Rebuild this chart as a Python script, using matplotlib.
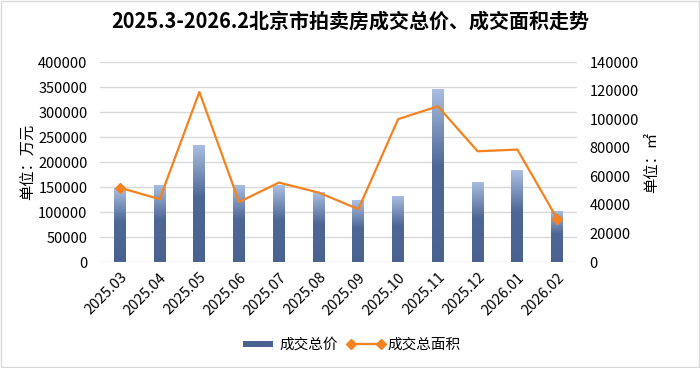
import matplotlib
matplotlib.use("Agg")
import matplotlib.pyplot as plt
import numpy as np
from matplotlib.colors import LinearSegmentedColormap
from matplotlib.patches import Rectangle
from matplotlib.legend_handler import HandlerPatch

plt.rcParams['font.family'] = ['Noto Sans CJK SC', 'DejaVu Sans']

months = ["2025.03", "2025.04", "2025.05", "2025.06", "2025.07", "2025.08",
          "2025.09", "2025.10", "2025.11", "2025.12", "2026.01", "2026.02"]
total_price = [148000, 155000, 235000, 155000, 154000, 140000,
               124000, 133000, 347000, 161000, 184000, 103000]
total_area = [52000, 44000, 119000, 42000, 55600, 48600,
              37000, 100000, 109000, 77500, 78700, 30400]

title = "2025.3-2026.2北京市拍卖房成交总价、成交面积走势"

fig = plt.figure(figsize=(7.0, 3.68), dpi=100)
fig.patch.set_facecolor("white")
ax = fig.add_axes([100/700, 1-262/368, 477/700, 200/368])
ax2 = ax.twinx()

x = np.arange(len(months))
bars = ax.bar(x, total_price, width=0.3, color="#4a6290", zorder=2, label="成交总价")

# gradient fill for bars
cmap = LinearSegmentedColormap.from_list("g", [(0, "#4a6290"), (0.55, "#4e6896"), (1.0, "#aabfe2")])
grad = np.linspace(0, 1, 256).reshape(-1, 1)
for b in bars:
    bx, by, bw, bh = b.get_x(), b.get_y(), b.get_width(), b.get_height()
    im = ax.imshow(grad, cmap=cmap, aspect="auto", extent=[bx, bx+bw, by, by+bh],
                   origin="lower", zorder=2.1)
    im.set_clip_path(b)

ax.set_xlim(-0.5, len(months)-0.5)
ax.set_ylim(0, 400000)
ax.set_yticks(np.arange(0, 400001, 50000))
ax.grid(axis="y", color="#d9d9d9", linewidth=1.0, zorder=0)
ax.set_axisbelow(True)
for s in ax.spines.values():
    s.set_visible(False)
for s in ax2.spines.values():
    s.set_visible(False)
ax.tick_params(axis="both", length=0, labelsize=10.5, colors="black")
ax.tick_params(axis="y", pad=9)
ax.set_xticks(x)
ax.set_xticklabels(months, rotation=45, ha="right", rotation_mode="anchor", fontsize=10.5)
ax.tick_params(axis="x", pad=6)

line, = ax2.plot(x, total_area, color="#f5821f", linewidth=1.6, marker="D", markersize=5,
                 markevery=[0, len(x)-1], zorder=5, label="成交总面积")
ax2.set_ylim(0, 140000)
ax2.set_yticks(np.arange(0, 140001, 20000))
ax2.tick_params(axis="y", length=0, labelsize=10.5, colors="black", pad=9)

ax.set_ylabel("单位：万元", fontsize=11, labelpad=1)
ax2.set_ylabel("单位：㎡", fontsize=11, labelpad=3)

ax2.set_zorder(ax.get_zorder()+1)
ax2.patch.set_visible(False)

fig.text(0.5, 1-21/368, title, ha="center", va="center", fontsize=14.4, fontweight="bold")


def small_patch(legend, orig_handle, xdescent, ydescent, width, height, fontsize):
    w = width * 0.78
    h = height * 0.55
    return Rectangle((-xdescent + (width - w) / 2, -ydescent + (height - h) / 2), w, h)


bar_proxy = Rectangle((0, 0), 1, 1, facecolor="#4a6290", edgecolor="none")
fig.legend(handles=[bar_proxy, line], labels=["成交总价", "成交总面积"], loc="center",
           bbox_to_anchor=(0.5, 1-345/368), ncol=2, frameon=False, fontsize=10.5,
           handlelength=2.6, handletextpad=0.2, columnspacing=0.6, numpoints=2,
           handler_map={bar_proxy: HandlerPatch(patch_func=small_patch)})

fig.add_artist(Rectangle((0.001, 0.002), 0.997, 0.995, transform=fig.transFigure,
                         fill=False, edgecolor="#d9d9d9", linewidth=1))

fig.savefig("out.png", dpi=100)
